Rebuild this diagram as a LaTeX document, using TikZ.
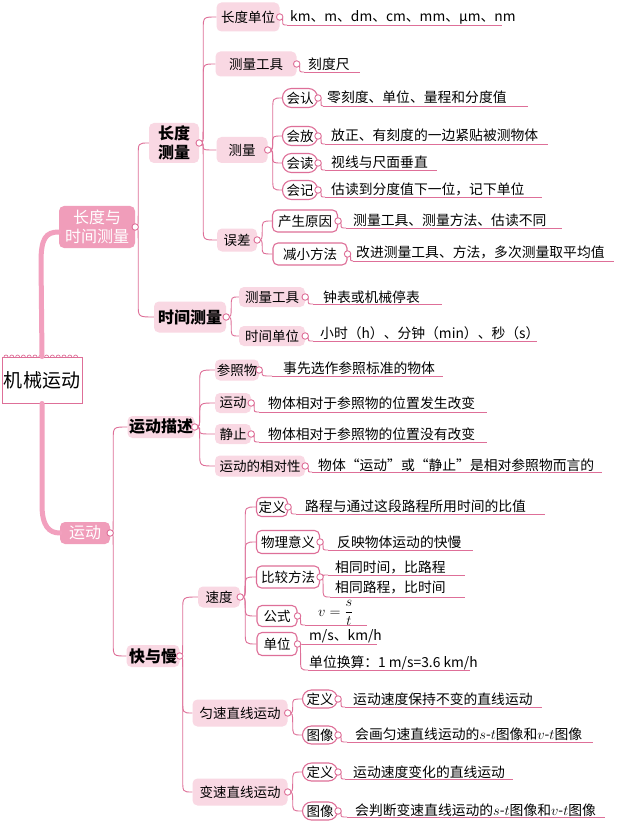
\documentclass[tikz,border=0pt]{standalone}
\usepackage{fontspec}
\setmainfont{Noto Sans CJK SC}
\usetikzlibrary{calc}
\definecolor{linepink}{HTML}{DE6F98}
\definecolor{fillpink}{HTML}{F9D8E3}
\definecolor{darkpink}{HTML}{F09DBA}
\definecolor{trunkpink}{HTML}{F2A0BE}
\newcommand\fs[2]{\fontsize{#1}{#2}\selectfont}
\newcommand\lnk[3][5pt]{\draw[con] let \p1=(#2), \p2=(#3), \n1={max(-13,min(13,(\y2-\y1)/2))} in (\p1) .. controls (\x1+#1,\y1) .. (\x1+#1,\y1+\n1) -- (\x1+#1,\y2-\n1) .. controls (\x1+#1,\y2) .. (\p2);}
\begin{document}
\begin{tikzpicture}[x=1pt,y=-1pt,
  sz/.style 2 args={minimum width=#1pt, minimum height=#2pt},
  box/.style={rectangle, rounded corners=5pt, inner sep=0pt, font=\fs{13.5}{16}, text=black},
  lbox/.style={box, fill=fillpink},
  wbox/.style={box, draw=linepink, line width=1.1pt, fill=white},
  pill/.style={box, draw=linepink, line width=1.1pt, fill=white, rounded corners=9pt},
  dbox/.style={box, fill=darkpink, text=white, font=\fs{16}{19}},
  hbox/.style={lbox, font=\fs{16}{19}\bfseries},
  rootbox/.style={rectangle, draw=linepink, line width=1pt, fill=white, inner sep=0pt, font=\fs{19}{22}},
  leaf/.style={anchor=west, inner sep=0pt, font=\fs{13.8}{16}},
  con/.style={draw=linepink, line width=0.9pt},
  dot/.style={circle, draw=linepink, fill=white, line width=0.9pt, inner sep=0pt, minimum size=6.5pt},
  trunk/.style={draw=trunkpink, line width=5pt, line cap=round}]
\useasboundingbox (0,0) rectangle (616,826);
\fill[white] (0,0) rectangle (616,826);

% ---- nodes ----
\node[rootbox, sz={80}{46}] (root) at (42,380) {机械运动};
\foreach \i in {0,...,12} \draw[linepink, line width=0.7pt] (6+\i*5.8-2,357) arc (180:360:2);

\node[dbox, sz={76}{42}, align=center] (lt) at (97,227) {长度与\\时间测量};
\node[dbox, sz={50}{22}] (yd) at (85,533) {运动};

\node[hbox, sz={50}{40}, align=center] (cdcl) at (174,143) {长度\\测量};
\node[hbox, sz={72}{31}] (sjcl) at (190,317) {时间测量};
\node[hbox, sz={67}{22}] (ydms) at (161,427) {运动描述};
\node[hbox, sz={53}{22}] (kym) at (153,656) {快与慢};

\node[lbox, sz={63}{29}] (cddw) at (248,17) {长度单位};
\node[lbox, sz={81}{25}] (clgj) at (256,64) {测量工具};
\node[lbox, sz={51}{26}] (cl) at (242,150) {测量};
\node[lbox, sz={40}{23}] (wc) at (237,240) {误差};

\node[pill, sz={35}{19}] (hr) at (300,98) {会认};
\node[pill, sz={35}{19}] (hf) at (300,136) {会放};
\node[pill, sz={35}{19}] (hd) at (300,163) {会读};
\node[pill, sz={35}{19}] (hj) at (300,190) {会记};
\node[wbox, sz={65}{22}] (csyy) at (305,221) {产生原因};
\node[wbox, sz={74}{22}] (jxff) at (310,254) {减小方法};

\node[lbox, sz={66}{20}] (clgj2) at (272,297) {测量工具};
\node[lbox, sz={66}{20}] (sjdw) at (272,336) {时间单位};

\node[lbox, sz={44}{21}] (czw) at (237,370) {参照物};
\node[lbox, sz={36}{20}] (yd2) at (233,403) {运动};
\node[lbox, sz={36}{20}] (jz) at (233,434) {静止};
\node[lbox, sz={90}{21}] (xdx) at (260,466) {运动的相对性};

\node[lbox, sz={42}{21}] (sd) at (219,597) {速度};
\node[lbox, sz={95}{27}] (ys) at (240,713) {匀速直线运动};
\node[lbox, sz={95}{27}] (bs) at (240,792) {变速直线运动};

\node[wbox, sz={31}{19}] (dy) at (272,507) {定义};
\node[wbox, sz={63}{23}] (wlyy) at (288,542) {物理意义};
\node[wbox, sz={63}{22}] (bjff) at (288,577) {比较方法};
\node[wbox, sz={40}{21}] (gs) at (277,616) {公式};
\node[wbox, sz={40}{23}] (dw) at (277,644) {单位};

\node[pill, sz={35}{18}] (dya) at (320,699) {定义};
\node[pill, sz={35}{18}] (txa) at (320,735) {图像};
\node[pill, sz={35}{18}] (dyb) at (320,772) {定义};
\node[pill, sz={35}{18}] (txb) at (320,811) {图像};

% ---- leaf texts ----
\node[leaf] (t1) at (290,17) {km、m、dm、cm、mm、μm、nm};
\node[leaf] (t2) at (308,64) {刻度尺};
\node[leaf] (t3) at (327,97) {零刻度、单位、量程和分度值};
\node[leaf] (t4) at (331,135) {放正、有刻度的一边紧贴被测物体};
\node[leaf] (t5) at (331,162) {视线与尺面垂直};
\node[leaf] (t6) at (331,189) {估读到分度值下一位，记下单位};
\node[leaf] (t7) at (353,220) {测量工具、测量方法、估读不同};
\node[leaf] (t8) at (356,252) {改进测量工具、方法，多次测量取平均值};
\node[leaf] (t9) at (323,297) {钟表或机械停表};
\node[leaf] (t10) at (320,333) {小时（h）、分钟（min）、秒（s）};
\node[leaf] (t11) at (283,368) {事先选作参照标准的物体};
\node[leaf] (t12) at (268,403) {物体相对于参照物的位置发生改变};
\node[leaf] (t13) at (268,434) {物体相对于参照物的位置没有改变};
\node[leaf] (t14) at (318,465) {物体“运动”或“静止”是相对参照物而言的};
\node[leaf] (t15) at (305,506) {路程与通过这段路程所用时间的比值};
\node[leaf] (t16) at (337,542) {反映物体运动的快慢};
\node[leaf] (t17) at (335,567) {相同时间，比路程};
\node[leaf] (t18) at (335,587) {相同路程，比时间};
\node[leaf, font=\fs{14}{16}] (t19) at (318,613) {$v=\displaystyle\frac{s}{t}$};
\node[leaf] (t20) at (309,636) {m/s、km/h};
\node[leaf] (t21) at (309,663) {单位换算：1 m/s=3.6 km/h};
\node[leaf] (t22) at (353,699) {运动速度保持不变的直线运动};
\node[leaf] (t23) at (355,734) {会画匀速直线运动的$s$-$t$图像和$v$-$t$图像};
\node[leaf] (t24) at (353,772) {运动速度变化的直线运动};
\node[leaf] (t25) at (355,810) {会判断变速直线运动的$s$-$t$图像和$v$-$t$图像};

% ---- underline coordinates ----
\coordinate (u1s) at (287,25);  \coordinate (u1e) at (502,25);
\coordinate (u2s) at (304,72);  \coordinate (u2e) at (360,72);
\coordinate (u3s) at (323,106); \coordinate (u3e) at (528,106);
\coordinate (u4s) at (325,144); \coordinate (u4e) at (548,144);
\coordinate (u5s) at (325,170); \coordinate (u5e) at (437,170);
\coordinate (u6s) at (325,197); \coordinate (u6e) at (542,197);
\coordinate (u7s) at (346,228); \coordinate (u7e) at (562,228);
\coordinate (u8s) at (353,261); \coordinate (u8e) at (614,261);
\coordinate (u9s) at (313,304); \coordinate (u9e) at (442,304);
\coordinate (u10s) at (313,341); \coordinate (u10e) at (537,341);
\coordinate (u11s) at (272,376); \coordinate (u11e) at (443,376);
\coordinate (u12s) at (259,412); \coordinate (u12e) at (487,412);
\coordinate (u13s) at (259,442); \coordinate (u13e) at (487,442);
\coordinate (u14s) at (312,472); \coordinate (u14e) at (602,472);
\coordinate (u15s) at (296,514); \coordinate (u15e) at (545,514);
\coordinate (u16s) at (328,550); \coordinate (u16e) at (473,550);
\coordinate (u17s) at (328,575); \coordinate (u17e) at (465,575);
\coordinate (u18s) at (330,597); \coordinate (u18e) at (465,597);
\coordinate (u19s) at (305,625); \coordinate (u19e) at (367,625);
\coordinate (u20s) at (303,644); \coordinate (u20e) at (377,644);
\coordinate (u21s) at (308,670); \coordinate (u21e) at (470,670);
\coordinate (u22s) at (345,707); \coordinate (u22e) at (542,707);
\coordinate (u23s) at (347,742); \coordinate (u23e) at (593,742);
\coordinate (u24s) at (345,779); \coordinate (u24e) at (513,779);
\coordinate (u25s) at (347,817); \coordinate (u25e) at (605,817);

% ---- main trunk ----
\draw[trunk] (root.north) -- (41,262) .. controls (41,238) and (46,232) .. ($(lt.west)+(0,5)$);
\draw[trunk] (root.south) -- (42,505) .. controls (42,526) and (49,533) .. (yd.west);

% ---- branch connectors ----
\lnk[3pt]{lt.east}{cdcl.west}
\lnk[3pt]{lt.east}{sjcl.west}
\lnk[3pt]{yd.east}{ydms.west}
\lnk[3pt]{yd.east}{kym.west}

\lnk[4pt]{cdcl.east}{cddw.west}
\lnk[4pt]{cdcl.east}{clgj.west}
\lnk[4pt]{cdcl.east}{cl.west}
\lnk[4pt]{cdcl.east}{wc.west}
\lnk[5pt]{cl.east}{hr.west}
\lnk[5pt]{cl.east}{hf.west}
\lnk[5pt]{cl.east}{hd.west}
\lnk[5pt]{cl.east}{hj.west}
\lnk[5pt]{wc.east}{csyy.west}
\lnk[5pt]{wc.east}{jxff.west}
\lnk[5pt]{sjcl.east}{clgj2.west}
\lnk[5pt]{sjcl.east}{sjdw.west}
\lnk[5pt]{ydms.east}{czw.west}
\lnk[5pt]{ydms.east}{yd2.west}
\lnk[5pt]{ydms.east}{jz.west}
\lnk[5pt]{ydms.east}{xdx.west}
\lnk[3pt]{kym.east}{sd.west}
\lnk[3pt]{kym.east}{ys.west}
\lnk[3pt]{kym.east}{bs.west}
\lnk[5pt]{sd.east}{dy.west}
\lnk[5pt]{sd.east}{wlyy.west}
\lnk[5pt]{sd.east}{bjff.west}
\lnk[5pt]{sd.east}{gs.west}
\lnk[5pt]{sd.east}{dw.west}
\lnk[5pt]{ys.east}{dya.west}
\lnk[5pt]{ys.east}{txa.west}
\lnk[5pt]{bs.east}{dyb.west}
\lnk[5pt]{bs.east}{txb.west}

% ---- leaf connectors and underlines ----
\foreach \pn/\un in {cddw/1, clgj/2, hr/3, hf/4, hd/5, hj/6, csyy/7, jxff/8, clgj2/9, sjdw/10, czw/11, yd2/12, jz/13, xdx/14, dy/15, wlyy/16, bjff/17, bjff/18, gs/19, dw/20, dw/21, dya/22, txa/23, dyb/24, txb/25}{
  \lnk[3pt]{\pn.east}{u\un s}
  \draw[con] (u\un s) -- (u\un e);
}

% ---- dots ----
\foreach \nn in {lt, yd, cdcl, sjcl, ydms, kym, cddw, clgj, cl, wc, hr, hf, hd, hj, csyy, jxff, clgj2, sjdw, czw, yd2, jz, xdx, sd, ys, bs, dy, wlyy, bjff, gs, dw, dya, txa, dyb, txb}
  \node[dot] (d\nn) at (\nn.east) {};
\end{tikzpicture}
\end{document}
